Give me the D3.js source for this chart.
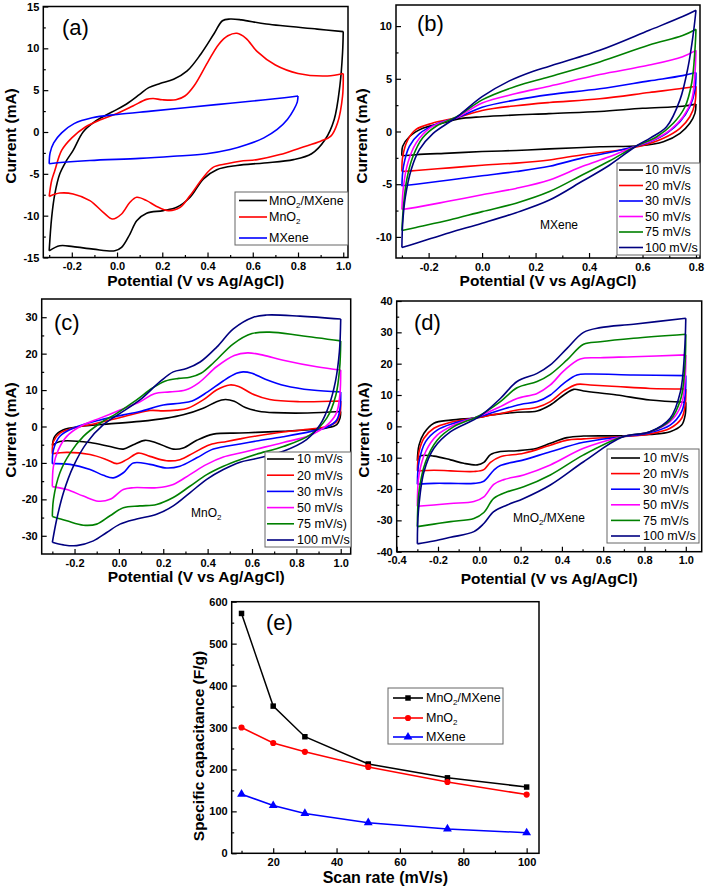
<!DOCTYPE html>
<html><head><meta charset="utf-8">
<script src="https://cdn.jsdelivr.net/npm/d3@7"></script>
<style>body{margin:0;background:#fff}</style>
</head><body><svg id="c" width="709" height="888"></svg>
<script>
// ---------------- DATA ----------------
// (a) CV at one scan rate, three electrodes: [potential V, current mA]
const a_MnO2MXene = [[-0.3,-14.2],[-0.289,-10.2],[-0.275,-7.4],[-0.253,-5.0],[-0.223,-3.4],[-0.194,-2.2],[-0.15,0.0],[-0.1,1.2],[-0.05,2.0],[0,2.7],[0.05,3.5],[0.1,4.5],[0.14,5.3],[0.19,5.8],[0.25,6.3],[0.31,7.3],[0.37,9.3],[0.43,11.8],[0.466,13.3],[0.5,13.5],[0.55,13.4],[0.66,12.9],[0.885,12.3],[1.0,12.0],
  [0.997,9.5],[0.985,5.5],[0.96,1.5],[0.92,-0.9],[0.86,-2.6],[0.78,-3.3],[0.65,-3.7],[0.53,-4.0],[0.441,-4.5],[0.382,-5.6],[0.323,-7.8],[0.264,-9.0],[0.204,-9.4],[0.131,-9.7],[0.087,-10.6],[0.057,-12.2],[0.02,-13.8],[-0.01,-14.2],[-0.105,-14.0],[-0.194,-13.7],[-0.253,-13.6],[-0.3,-14.2]];
const a_MnO2 = [[-0.3,-7.7],[-0.289,-5.8],[-0.275,-4.6],[-0.245,-2.2],[-0.2,-0.7],[-0.14,0.6],[-0.07,1.5],[0,2.2],[0.07,3.1],[0.13,3.9],[0.16,4.0],[0.2,3.85],[0.26,3.85],[0.3,4.3],[0.34,5.5],[0.4,8.3],[0.45,10.5],[0.49,11.5],[0.53,11.8],[0.57,11.2],[0.62,9.6],[0.7,8.0],[0.8,7.0],[0.93,6.7],[1.0,7.0],
  [0.997,4.3],[0.975,1.1],[0.945,-0.5],[0.9,-1.1],[0.81,-1.9],[0.72,-2.7],[0.62,-3.3],[0.544,-3.5],[0.485,-3.8],[0.426,-4.2],[0.382,-5.4],[0.323,-7.6],[0.279,-9.0],[0.227,-9.4],[0.175,-8.9],[0.131,-8.2],[0.087,-7.8],[0.057,-8.4],[0.02,-9.8],[-0.02,-10.4],[-0.061,-9.6],[-0.12,-8.2],[-0.194,-7.4],[-0.253,-7.3],[-0.3,-7.7]];
const a_MXene = [[-0.3,-3.8],[-0.296,-2.5],[-0.28,-1.3],[-0.245,-0.1],[-0.19,1.0],[-0.11,1.7],[0,2.1],[0.15,2.5],[0.3,2.9],[0.45,3.3],[0.6,3.7],[0.74,4.1],[0.8,4.3],
  [0.797,3.6],[0.782,2.7],[0.753,1.5],[0.708,0.3],[0.649,-0.7],[0.575,-1.5],[0.5,-2.1],[0.396,-2.6],[0.249,-2.9],[0.1,-3.15],[-0.12,-3.4],[-0.25,-3.65],[-0.3,-3.8]];

// (b) MXene at six scan rates
const b_10 = [[-0.3,-2.3],[-0.297,-1.4],[-0.272,-0.5],[-0.222,0.3],[-0.147,0.8],[-0.088,1.2],[0,1.4],[0.25,1.7],[0.44,1.9],[0.6,2.2],[0.75,2.4],[0.8,2.6],
  [0.796,1.72],[0.777,0.78],[0.74,-0.17],[0.678,-0.97],[0.59,-1.35],[0.44,-1.45],[0.252,-1.65],[0.127,-1.8],[0,-1.9],[-0.122,-2.05],[-0.247,-2.2],[-0.3,-2.3]];
const b_20 = [[-0.3,-3.8],[-0.297,-2.4],[-0.278,-0.8],[-0.247,0.2],[-0.184,0.8],[-0.088,1.35],[0,2.0],[0.127,2.45],[0.252,2.75],[0.44,3.1],[0.625,3.7],[0.75,4.1],[0.8,4.3],
  [0.796,2.67],[0.777,1.4],[0.74,0.3],[0.678,-0.64],[0.59,-1.4],[0.476,-1.9],[0.376,-2.2],[0.252,-2.7],[0.127,-3.0],[0,-3.2],[-0.122,-3.45],[-0.247,-3.7],[-0.3,-3.8]];
const b_30 = [[-0.3,-5.2],[-0.294,-3.3],[-0.272,-1.4],[-0.234,-0.2],[-0.172,0.7],[-0.088,1.35],[0,2.3],[0.127,3.0],[0.252,3.5],[0.44,4.05],[0.625,4.8],[0.75,5.3],[0.8,5.6],
  [0.796,3.9],[0.777,2.35],[0.74,0.93],[0.69,-0.17],[0.628,-0.97],[0.575,-1.4],[0.476,-2.0],[0.376,-2.5],[0.252,-3.3],[0.127,-3.8],[0,-4.2],[-0.122,-4.6],[-0.247,-5.0],[-0.3,-5.15]];
const b_50 = [[-0.3,-7.4],[-0.294,-5.2],[-0.278,-3.0],[-0.247,-1.1],[-0.197,0.3],[-0.135,1.0],[-0.088,1.4],[0,2.7],[0.127,3.6],[0.252,4.3],[0.44,5.4],[0.625,6.3],[0.75,7.1],[0.8,7.7],
  [0.796,5.5],[0.784,3.0],[0.752,1.4],[0.703,0.14],[0.64,-0.8],[0.575,-1.4],[0.476,-2.4],[0.376,-3.3],[0.252,-4.6],[0.127,-5.4],[0,-6.0],[-0.122,-6.6],[-0.247,-7.2],[-0.3,-7.4]];
const b_75 = [[-0.3,-9.4],[-0.294,-7.1],[-0.282,-4.6],[-0.259,-2.4],[-0.222,-0.6],[-0.172,0.5],[-0.088,1.5],[0,3.0],[0.127,4.3],[0.252,5.2],[0.44,6.6],[0.625,8.2],[0.75,9.1],[0.8,9.7],
  [0.796,7.7],[0.784,4.6],[0.759,2.35],[0.715,0.78],[0.653,-0.5],[0.575,-1.4],[0.476,-2.8],[0.376,-4.1],[0.252,-5.7],[0.127,-6.8],[0,-7.6],[-0.122,-8.4],[-0.247,-9.1],[-0.3,-9.4]];
const b_100 = [[-0.3,-11.0],[-0.297,-8.7],[-0.287,-6.2],[-0.265,-3.6],[-0.234,-1.7],[-0.184,-0.2],[-0.122,0.9],[-0.088,1.5],[0,3.3],[0.102,4.8],[0.189,5.7],[0.252,6.2],[0.44,7.7],[0.625,9.6],[0.75,10.9],[0.8,11.5],
  [0.79,9.3],[0.771,6.2],[0.74,3.0],[0.69,0.45],[0.63,-0.6],[0.575,-1.4],[0.476,-3.2],[0.376,-4.7],[0.252,-6.5],[0.127,-7.7],[0,-8.7],[-0.122,-9.6],[-0.247,-10.6],[-0.3,-11.0]];

// (c) MnO2 at six scan rates
const c_10 = [[-0.3,-5.2],[-0.289,-2.7],[-0.25,-0.9],[-0.175,0],[-0.055,0.65],[0.095,1.4],[0.215,2.3],[0.29,3.2],[0.38,5.0],[0.44,6.8],[0.48,7.4],[0.52,6.9],[0.57,5.2],[0.63,4.2],[0.7,3.8],[0.85,3.7],[1.0,4.1],
  [0.997,2.3],[0.982,0.5],[0.937,-0.4],[0.862,-0.9],[0.741,-1.3],[0.62,-1.6],[0.546,-1.8],[0.426,-2.1],[0.351,-3.8],[0.29,-5.9],[0.245,-6.2],[0.17,-4.5],[0.118,-3.8],[0.065,-5.0],[0.02,-6.2],[-0.04,-5.5],[-0.13,-4.4],[-0.266,-4.1],[-0.3,-5.2]];
const c_20 = [[-0.3,-7.5],[-0.295,-4.1],[-0.266,-1.8],[-0.205,-0.45],[-0.1,0.9],[0.02,2.7],[0.14,4.4],[0.2,4.3],[0.26,4.5],[0.31,5.0],[0.38,7.3],[0.44,10.0],[0.5,11.4],[0.54,11.0],[0.6,9.0],[0.68,7.4],[0.816,6.8],[1.0,7.0],
  [0.997,3.6],[0.982,1.4],[0.937,0],[0.862,-0.7],[0.741,-1.5],[0.62,-2.6],[0.546,-3.4],[0.486,-4.1],[0.41,-5.0],[0.335,-7.3],[0.275,-9.1],[0.215,-9.4],[0.14,-8.2],[0.087,-7.3],[0.035,-9.1],[-0.01,-10.2],[-0.055,-9.1],[-0.13,-7.7],[-0.235,-7.1],[-0.3,-7.5]];
const c_30 = [[-0.3,-10.2],[-0.295,-6.4],[-0.266,-2.7],[-0.205,-0.45],[-0.085,1.8],[0.02,3.2],[0.095,4.1],[0.2,5.9],[0.275,6.4],[0.33,7.0],[0.4,9.5],[0.47,12.5],[0.53,14.6],[0.56,15.0],[0.6,14.6],[0.66,13.0],[0.75,11.2],[0.87,10.0],[1.0,9.5],
  [0.997,5.0],[0.982,1.8],[0.937,-0.2],[0.862,-1.4],[0.741,-2.8],[0.62,-4.0],[0.546,-4.8],[0.426,-6.2],[0.351,-8.6],[0.275,-10.9],[0.215,-11.4],[0.14,-10.4],[0.065,-10.0],[0.02,-12.7],[-0.025,-14.1],[-0.07,-13.4],[-0.13,-11.8],[-0.22,-10.4],[-0.3,-10.2]];
const c_50 = [[-0.3,-16.5],[-0.295,-10.9],[-0.273,-6.4],[-0.235,-2.7],[-0.175,0],[-0.085,2.3],[0.005,4.5],[0.095,6.8],[0.16,9.0],[0.23,9.5],[0.3,10.0],[0.36,12.0],[0.44,16.4],[0.52,19.5],[0.58,20.2],[0.65,19.6],[0.741,18.2],[0.892,16.4],[1.0,15.5],
  [0.996,8.6],[0.98,3.6],[0.937,0.3],[0.862,-2.4],[0.741,-4.4],[0.62,-6.2],[0.546,-7.3],[0.471,-8.4],[0.396,-10.4],[0.32,-13.2],[0.245,-15.9],[0.17,-16.8],[0.065,-16.8],[0.02,-17.3],[-0.04,-20.0],[-0.093,-20.5],[-0.16,-19.1],[-0.235,-17.3],[-0.3,-16.5]];
const c_75 = [[-0.3,-24.7],[-0.295,-20],[-0.266,-12.7],[-0.22,-7.3],[-0.16,-2.7],[-0.085,0.9],[-0.01,3.6],[0.08,7.3],[0.15,10.5],[0.21,12.5],[0.27,13.2],[0.32,13.5],[0.37,14.6],[0.43,17.7],[0.516,22.7],[0.6,25.5],[0.68,25.9],[0.816,25.0],[1.0,23.5],
  [0.995,15.9],[0.978,8.6],[0.937,2.3],[0.862,-2.3],[0.741,-5.5],[0.62,-7.6],[0.546,-9.1],[0.471,-10.9],[0.396,-13.2],[0.32,-16.4],[0.245,-19.5],[0.17,-21.4],[0.095,-21.8],[0.02,-22.3],[-0.04,-24.5],[-0.1,-26.8],[-0.16,-27.1],[-0.235,-25.9],[-0.3,-24.7]];
const c_100 = [[-0.3,-31.8],[-0.28,-25.4],[-0.25,-18.2],[-0.205,-10.9],[-0.145,-4.5],[-0.07,0.5],[0.005,3.6],[0.095,7.3],[0.185,12.3],[0.245,15],[0.305,15.9],[0.366,17.7],[0.441,21.8],[0.516,26.8],[0.606,30],[0.666,30.6],[0.816,30.3],[1.0,29.5],
  [0.994,20.5],[0.976,12.3],[0.948,5.9],[0.907,0.5],[0.846,-3.6],[0.741,-6.8],[0.62,-8.8],[0.546,-9.8],[0.471,-11.8],[0.396,-14.5],[0.32,-18.2],[0.245,-21.8],[0.17,-24.1],[0.08,-25.4],[0.005,-26.8],[-0.055,-29.1],[-0.115,-31.4],[-0.19,-32.7],[-0.25,-32.5],[-0.3,-31.8]];

// (d) MnO2/MXene at six scan rates
const d_10 = [[-0.3,-11],[-0.292,-6],[-0.268,-2.2],[-0.22,1],[-0.139,2],[0,2.8],[0.054,3.6],[0.183,4.5],[0.28,4.9],[0.344,6.8],[0.409,10],[0.457,11.8],[0.505,11.3],[0.666,10],[0.827,8.4],[1.0,7.7],
  [0.997,3.6],[0.98,0.4],[0.924,-1.7],[0.827,-2.6],[0.69,-3.0],[0.505,-3.1],[0.425,-3.6],[0.344,-5.4],[0.28,-7.0],[0.183,-7.8],[0.102,-8.0],[0.054,-9.0],[0.022,-11.5],[-0.01,-12.3],[-0.075,-11.8],[-0.139,-10.7],[-0.22,-9.5],[-0.284,-9.4],[-0.3,-11]];
const d_20 = [[-0.3,-14.2],[-0.292,-8.1],[-0.268,-3.8],[-0.22,-0.6],[-0.139,1.3],[0,2.9],[0.102,4.1],[0.183,5.2],[0.28,6.1],[0.344,7.9],[0.409,11.3],[0.473,13.4],[0.537,13.2],[0.666,12.7],[0.827,12.1],[1.0,11.9],
  [0.997,6.8],[0.98,2.6],[0.924,-0.6],[0.827,-2.4],[0.69,-3.3],[0.505,-4.0],[0.425,-4.4],[0.344,-6.0],[0.215,-8.6],[0.102,-9.7],[0.054,-11.5],[0.022,-13.8],[-0.026,-14.4],[-0.139,-14.2],[-0.22,-14.0],[-0.3,-14.2]];
const d_30 = [[-0.3,-18.5],[-0.292,-11.3],[-0.26,-4.9],[-0.204,-1.2],[-0.123,1.0],[0,3.1],[0.102,5.2],[0.199,7],[0.28,7.9],[0.344,10],[0.409,13.7],[0.473,16.4],[0.537,16.7],[0.747,16.4],[1.0,16.2],
  [0.997,10],[0.98,4.7],[0.924,0.4],[0.827,-2],[0.69,-3.3],[0.505,-5.1],[0.344,-8.1],[0.215,-10.7],[0.102,-12.5],[0.07,-14.0],[0.022,-17.5],[-0.026,-18.2],[-0.139,-18.2],[-0.22,-18.2],[-0.3,-18.5]];
const d_50 = [[-0.3,-25.5],[-0.292,-15.5],[-0.26,-8.1],[-0.204,-2.8],[-0.123,0.4],[0,3.3],[0.102,6.3],[0.183,8.9],[0.28,10.5],[0.344,13.2],[0.409,17.7],[0.489,21.5],[0.586,21.9],[0.747,22.2],[1.0,22.8],
  [0.996,14.3],[0.978,6.8],[0.924,1.5],[0.827,-1.7],[0.69,-3.3],[0.505,-7.0],[0.344,-12.3],[0.215,-15.5],[0.119,-17.0],[0.07,-18.5],[0.022,-22.5],[-0.026,-24],[-0.139,-24.6],[-0.22,-25.1],[-0.3,-25.5]];
const d_75 = [[-0.3,-32],[-0.292,-20.9],[-0.26,-11.3],[-0.204,-4.4],[-0.123,-0.1],[0,3.4],[0.102,7.9],[0.183,12.3],[0.28,14.3],[0.344,16.6],[0.425,21.2],[0.505,26.2],[0.586,27],[0.747,28.1],[1.0,29.4],
  [0.995,18.5],[0.976,8.9],[0.924,2],[0.827,-1.7],[0.69,-3.4],[0.505,-9.1],[0.344,-15.5],[0.215,-19.3],[0.135,-20.9],[0.07,-23.0],[0.022,-27.5],[-0.026,-29.4],[-0.139,-30.4],[-0.22,-31.2],[-0.3,-32]];
const d_100 = [[-0.3,-37.5],[-0.295,-27.2],[-0.268,-14.5],[-0.22,-7],[-0.139,-1.7],[0,3.1],[0.102,8.9],[0.183,14.3],[0.28,16.9],[0.344,19.6],[0.425,24.9],[0.505,30],[0.586,31.5],[0.747,32.6],[1.0,34.5],
  [0.994,23.8],[0.974,11.1],[0.924,2.6],[0.827,-1.7],[0.69,-3.5],[0.505,-11.3],[0.344,-18.7],[0.215,-23],[0.135,-25.1],[0.07,-27.2],[0.022,-31],[-0.026,-33.6],[-0.139,-35.4],[-0.22,-36.6],[-0.3,-37.5]];

// (e) specific capacitance vs scan rate
const scanRates = [10, 20, 30, 50, 75, 100];
const cap_MnO2MXene = [572, 351, 278, 213, 180, 158];
const cap_MnO2 = [300, 263, 242, 206, 170, 140];
const cap_MXene = [141, 114, 95, 73, 58, 49];

// labels
const materialLabels = ["MnO_2/MXene", "MnO_2", "MXene"];
const rateLabels = ["10 mV/s", "20 mV/s", "30 mV/s", "50 mV/s", "75 mV/s", "100 mV/s"];
const rateLabelsC = ["10 mV/s", "20 mV/s", "30 mV/s", "50 mV/s", "75 mV/s)", "100 mV/s"];
const materialColors = ["#000000", "#ff0000", "#0000ff"];
const rateColors = ["#000000", "#ff0000", "#0000ff", "#ff00ff", "#008000", "#000080"];

// ticks
const xTicksA = [-0.2, 0, 0.2, 0.4, 0.6, 0.8, 1.0], xMinorA = [-0.3, -0.1, 0.1, 0.3, 0.5, 0.7, 0.9];
const yTicksA = [-15, -10, -5, 0, 5, 10, 15], yMinorA = [-12.5, -7.5, -2.5, 2.5, 7.5, 12.5];
const xTicksB = [-0.2, 0, 0.2, 0.4, 0.6, 0.8], xMinorB = [-0.3, -0.1, 0.1, 0.3, 0.5, 0.7];
const yTicksB = [-10, -5, 0, 5, 10], yMinorB = [-7.5, -2.5, 2.5, 7.5];
const yTicksC = [-30, -20, -10, 0, 10, 20, 30], yMinorC = [-25, -15, -5, 5, 15, 25];
const xTicksD = [-0.4, -0.2, 0, 0.2, 0.4, 0.6, 0.8, 1.0], xMinorD = [-0.3, -0.1, 0.1, 0.3, 0.5, 0.7, 0.9];
const yTicksD = [-40, -30, -20, -10, 0, 10, 20, 30, 40], yMinorD = [-35, -25, -15, -5, 5, 15, 25, 35];
const xTicksE = [20, 40, 60, 80, 100], xMinorE = [10, 30, 50, 70, 90];
const yTicksE = [0, 100, 200, 300, 400, 500, 600], yMinorE = [50, 150, 250, 350, 450, 550];

// ---------------- DRAW ----------------
const svg = d3.select("#c");
const FONT = "'Liberation Sans', Arial, Helvetica, sans-serif";
svg.append("rect").attr("width", 709).attr("height", 888).attr("fill", "#fff");

function rich(sel, str, subSize) {
  const parts = str.split(/_(\d)/);
  parts.forEach((p, i) => {
    if (p === "") return;
    if (i % 2 === 1) {
      sel.append("tspan").attr("font-size", subSize).attr("dy", 3).text(p);
    } else {
      const t = sel.append("tspan").text(p);
      if (i > 0) t.attr("dy", -3);
    }
  });
}

// split a CV loop at its switching (max potential) vertex -> sharp corner there
function branches(s) {
  let k = 0;
  s.forEach((p, i) => { if (p[0] > s[k][0]) k = i; });
  return [s.slice(0, k + 1), s.slice(k)];
}

function panel(cfg) {
  const g = svg.append("g");
  const x = d3.scaleLinear().domain(cfg.xDomain).range([cfg.fx0, cfg.fx1]);
  const y = d3.scaleLinear().domain(cfg.yDomain).range([cfg.fy1, cfg.fy0]);
  const line = d3.line().x(d => x(d[0])).y(d => y(d[1])).curve(d3.curveCatmullRom.alpha(0.5));
  cfg.series.forEach((s, i) => {
    const [an, ca] = branches(s);
    g.append("path").attr("d", line(an) + line(ca)).attr("fill", "none")
      .attr("stroke", cfg.colors[i]).attr("stroke-width", 1.6).attr("stroke-linejoin", "miter");
  });
  if (cfg.points) {
    cfg.points.forEach((s, i) => {
      const pts = cfg.xVals.map((v, j) => [v, s[j]]);
      g.append("path").attr("d", d3.line().x(d => x(d[0])).y(d => y(d[1]))(pts))
        .attr("fill", "none").attr("stroke", cfg.colors[i]).attr("stroke-width", 1.5);
      const sym = d3.symbol().type(cfg.symbols[i]).size(cfg.symSizes[i]);
      g.selectAll(null).data(pts).enter().append("path")
        .attr("transform", d => `translate(${x(d[0])},${y(d[1])})`)
        .attr("d", sym).attr("fill", cfg.colors[i]);
    });
  }
  // axes (ticks inside, Origin style)
  const fmtX = cfg.xFmt || (d => d.toFixed(1));
  const fmtY = d => String(d);
  const ax = g.append("g").attr("transform", `translate(0,${cfg.fy1})`)
    .call(d3.axisBottom(x).tickValues(cfg.xTicks).tickSizeInner(-5).tickSizeOuter(0).tickPadding(5).tickFormat(fmtX));
  const axm = g.append("g").attr("transform", `translate(0,${cfg.fy1})`)
    .call(d3.axisBottom(x).tickValues(cfg.xMinor).tickSizeInner(-2.5).tickSizeOuter(0).tickFormat(""));
  const ay = g.append("g").attr("transform", `translate(${cfg.fx0},0)`)
    .call(d3.axisLeft(y).tickValues(cfg.yTicks).tickSizeInner(-5).tickSizeOuter(0).tickPadding(4).tickFormat(fmtY));
  const aym = g.append("g").attr("transform", `translate(${cfg.fx0},0)`)
    .call(d3.axisLeft(y).tickValues(cfg.yMinor).tickSizeInner(-2.5).tickSizeOuter(0).tickFormat(""));
  [ax, axm, ay, aym].forEach(a => {
    a.select(".domain").remove();
    a.selectAll("line").attr("stroke", "#000").attr("stroke-width", 1.2);
    a.selectAll("text").attr("font-family", FONT).attr("font-weight", "bold").attr("font-size", 11).attr("fill", "#000");
  });
  // frame
  g.append("rect").attr("x", cfg.fx0).attr("y", cfg.fy0).attr("width", cfg.fx1 - cfg.fx0)
    .attr("height", cfg.fy1 - cfg.fy0).attr("fill", "none").attr("stroke", "#000").attr("stroke-width", 1.5);
  // titles
  g.append("text").attr("x", (cfg.fx0 + cfg.fx1) / 2 + (cfg.xtdx || 0)).attr("y", cfg.xtY)
    .attr("text-anchor", "middle").attr("font-family", FONT).attr("font-weight", "bold")
    .attr("font-size", cfg.xtSize || 15.5).text(cfg.xTitle);
  g.append("text").attr("transform", `translate(${cfg.ytX},${cfg.ytCY}) rotate(-90)`)
    .attr("text-anchor", "middle").attr("font-family", FONT).attr("font-weight", "bold")
    .attr("font-size", cfg.ytSize || 15.5).text(cfg.yTitle);
  // panel label
  g.append("text").attr("x", cfg.lab[0]).attr("y", cfg.lab[1]).attr("font-family", FONT)
    .attr("font-size", 22).text(cfg.label);
  // inner annotation
  if (cfg.note) {
    const t = g.append("text").attr("x", cfg.note[0]).attr("y", cfg.note[1]).attr("font-family", FONT)
      .attr("font-size", 12);
    rich(t, cfg.note[2], 8);
  }
  // legend
  const L = cfg.legend;
  g.append("rect").attr("x", L.box[0]).attr("y", L.box[1]).attr("width", L.box[2]).attr("height", L.box[3])
    .attr("fill", "#fff").attr("stroke", "#666").attr("stroke-width", 1);
  L.labels.forEach((lab, i) => {
    const yy = L.ys ? L.ys[i] : L.y0 + i * L.dy;
    g.append("line").attr("x1", L.lx0).attr("x2", L.lx1).attr("y1", yy).attr("y2", yy)
      .attr("stroke", cfg.colors[i]).attr("stroke-width", 1.6);
    if (cfg.symbols) {
      g.append("path").attr("transform", `translate(${(L.lx0 + L.lx1) / 2},${yy})`)
        .attr("d", d3.symbol().type(cfg.symbols[i]).size(cfg.symSizes[i])).attr("fill", cfg.colors[i]);
    }
    const t = g.append("text").attr("x", L.tx).attr("y", yy + 4.3).attr("font-family", FONT).attr("font-size", 12.5);
    rich(t, lab, 8);
  });
}

const POT = "Potential (V vs Ag/AgCl)";
const CUR = "Current (mA)";

panel({ fx0: 43.3, fx1: 348, fy0: 6.5, fy1: 257.5, xDomain: [-0.326, 1.021], yDomain: [-15, 15],
  series: [a_MnO2MXene, a_MnO2, a_MXene], colors: materialColors,
  xTicks: xTicksA, xMinor: xMinorA, yTicks: yTicksA, yMinor: yMinorA,
  xTitle: POT, xtY: 286, yTitle: CUR, ytX: 16, ytCY: 136, label: "(a)", lab: [62, 35],
  legend: { box: [235, 192, 113, 53], lx0: 239, lx1: 267, tx: 269, ys: [200.5, 217, 238], labels: materialLabels } });

panel({ fx0: 396, fx1: 700, fy0: 5, fy1: 258, xDomain: [-0.322, 0.815], yDomain: [-12, 12],
  series: [b_10, b_20, b_30, b_50, b_75, b_100], colors: rateColors,
  xTicks: xTicksB, xMinor: xMinorB, yTicks: yTicksB, yMinor: yMinorB,
  xTitle: POT, xtY: 286, yTitle: CUR, ytX: 367, ytCY: 136, label: "(b)", lab: [417, 31],
  note: [540, 229, "MXene"],
  legend: { box: [617, 163, 83, 92], lx0: 619, lx1: 643, tx: 645, y0: 170, dy: 15.5, labels: rateLabels } });

panel({ fx0: 41.7, fx1: 350.7, fy0: 299, fy1: 554, xDomain: [-0.348, 1.045], yDomain: [-35, 35],
  series: [c_10, c_20, c_30, c_50, c_75, c_100], colors: rateColors,
  xTicks: xTicksA, xMinor: xMinorA, yTicks: yTicksC, yMinor: yMinorC,
  xTitle: POT, xtY: 582, yTitle: CUR, ytX: 16, ytCY: 430, label: "(c)", lab: [54, 330],
  note: [191, 517, "MnO_2"],
  legend: { box: [265, 452, 86, 95], lx0: 267, lx1: 294, tx: 297, y0: 459, dy: 16.2, labels: rateLabelsC } });

panel({ fx0: 396.7, fx1: 701.7, fy0: 301, fy1: 551.7, xDomain: [-0.4, 1.077], yDomain: [-40, 40],
  series: [d_10, d_20, d_30, d_50, d_75, d_100], colors: rateColors,
  xTicks: xTicksD, xMinor: xMinorD, yTicks: yTicksD, yMinor: yMinorD,
  xTitle: POT, xtY: 584, yTitle: CUR, ytX: 369, ytCY: 430, label: "(d)", lab: [414, 330],
  note: [513, 522, "MnO_2/MXene"],
  legend: { box: [607, 449, 92, 94], lx0: 611, lx1: 640, tx: 643, y0: 458, dy: 15.6, labels: rateLabels } });

panel({ fx0: 231.7, fx1: 539, fy0: 601.7, fy1: 853.3, xDomain: [6.9, 103.9], yDomain: [0, 600],
  series: [], points: [cap_MnO2MXene, cap_MnO2, cap_MXene], xVals: scanRates, colors: materialColors,
  symbols: [d3.symbolSquare, d3.symbolCircle, d3.symbolTriangle], symSizes: [30, 30, 34],
  xFmt: d => String(d),
  xTicks: xTicksE, xMinor: xMinorE, yTicks: yTicksE, yMinor: yMinorE,
  xTitle: "Scan rate (mV/s)", xtY: 883, xtSize: 16, yTitle: "Specific capacitance (F/g)", ytX: 204, ytCY: 746, ytSize: 15.5,
  label: "(e)", lab: [266, 630],
  legend: { box: [388, 688, 115, 56], lx0: 393, lx1: 423, tx: 426, ys: [698, 718, 737], labels: materialLabels } });
</script>
</body></html>
